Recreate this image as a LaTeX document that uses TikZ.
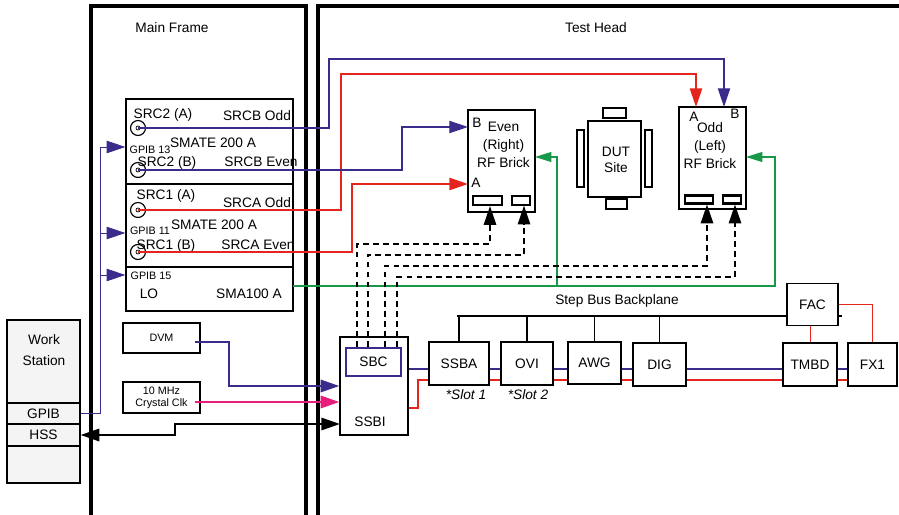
\documentclass[tikz,border=0pt]{standalone}
\usepackage{fontspec}
\setmainfont{Liberation Sans}
\usetikzlibrary{arrows.meta}

\definecolor{morado}{RGB}{57,44,139}
\definecolor{rojo}{RGB}{230,36,30}
\definecolor{verde}{RGB}{22,152,72}
\definecolor{rosa}{RGB}{232,28,122}
\definecolor{grisws}{RGB}{244,244,244}

\pgfdeclarelayer{fondo}
\pgfsetlayers{fondo,main}

% Unidad: un pixel del dibujo
\def\upx{0.03cm}

\tikzset{
  txt/.style={inner sep=0pt, text height=8.4pt, text depth=0pt},
  txtm/.style={inner sep=0pt, align=center},
  chico/.style={font=\fontsize{9.2}{10.2}\selectfont},
  caja/.style 2 args={draw, line width=1.1pt, fill=white, inner sep=0pt,
    minimum width=#1*\upx, minimum height=#2*\upx},
  smate/.style 2 args={caja={#1}{#2}, line width=0.9pt},
  ws/.style 2 args={caja={#1}{#2}, fill=grisws, line width=1pt},
  ranura/.style 2 args={caja={#1}{#2}, line width=1.8pt},
  conector/.style={draw, circle, line width=1pt, inner sep=0pt, minimum size=15*\upx},
  marco/.style={line width=2.8pt},
  flecha/.style={-{Triangle[length=16pt,width=10.5pt]}},
  gpib/.style={morado, line width=0.8pt},
  srcb/.style={morado, line width=1.2pt, flecha},
  srca/.style={rojo, line width=1.6pt, flecha},
  loline/.style={verde, line width=1.1pt, -{Triangle[length=14pt,width=8.5pt]}},
  trig/.style={dash pattern=on 5pt off 3.5pt, line width=1.5pt, flecha},
  dvmline/.style={morado, line width=2pt, flecha},
  clkline/.style={rosa, line width=2pt, flecha},
  hss/.style={line width=2pt, {Triangle[length=16pt,width=10.5pt]}-{Triangle[length=16pt,width=10.5pt]}},
  busaz/.style={morado, line width=1.6pt},
  busro/.style={rojo, line width=1.6pt},
  bp/.style={black, line width=0.9pt}
}

\begin{document}
\begin{tikzpicture}[x=\upx, y=-\upx, font=\fontsize{11.7}{15.3}\selectfont]
\useasboundingbox (0,0) rectangle (899,515);
\clip (0,0) rectangle (899,515);

% Marcos
\draw[marco] (91,530) -- (91,6) -- (306,6) -- (306,530);
\draw[marco] (318,530) -- (318,6) -- (910,6);
\node[txt] (tmain) at (172,28) {Main Frame};
\node[txt] (thead) at (596,28) {Test Head};

% Estacion de trabajo
\node[ws={73}{83}] (wstop) at (43.5,361.5) {};
\node[txtm] (wslbl) at (44,350) {Work\\[2.5pt]Station};
\node[ws={73}{21}] (wsgpib) at (43.5,413.5) {GPIB};
\node[ws={73}{22}] (wshss) at (43.5,435) {HSS};
\node[ws={73}{37}] (wsbot) at (43.5,464.5) {};

% Fuentes SMATE y SMA
\node[smate={167}{85}] (smate2) at (209.5,141.5) {};
\node[smate={167}{83}] (smate1) at (209.5,225.5) {};
\node[smate={167}{44}] (sma) at (209.5,289) {};

\foreach \nom/\x/\y/\etq in {s2a/163/114/SRC2 (A), s2bo/257/116/SRCB Odd,
    m2/213/143/SMATE 200 A, s2b/167/162/SRC2 (B), s2be/261/162/SRCB Even,
    s1a/166/195/SRC1 (A), s1ao/257/203/SRCA Odd, m1/214/225/SMATE 200 A,
    s1b/166/245/SRC1 (B), s1be/258/245/SRCA Even, lo/149/294/LO,
    smanom/249/294/SMA100 A}
  \node[txt] (\nom) at (\x,\y) {\etq};
\foreach \nom/\x/\y/\etq in {g13/150/150/GPIB 13, g11/150/231/GPIB 11, g15/151/276/GPIB 15}
  \node[txt, chico, text height=6.6pt] (\nom) at (\x,\y) {\etq};

% Conectores
\foreach \nom/\y in {c2a/128, c2b/170, c1a/210, c1b/252} {
  \node[conector] (\nom) at (138,\y) {};
  \draw[line width=0.6pt] (\nom.center) circle[radius=2];
}

% DVM y reloj
\node[caja={77}{30}, chico] (dvm) at (161.5,338) {DVM};
\node[caja={77}{31}, chico, align=center] (clk) at (161.5,397.5) {10 MHz\\Crystal Clk};

% Ladrillos RF
\node[caja={67}{102}] (even) at (501.5,161) {};
\node[caja={67}{102}] (odd) at (712.5,158) {};
\node[txtm] (evtxt) at (503.5,145) {Even\\(Right)\\RF Brick};
\node[txtm] (odtxt) at (710,145.5) {Odd\\(Left)\\RF Brick};
\node[txt] (evB) at (477,123) {B};
\node[txt] (evA) at (476,183) {A};
\node[txt] (odA) at (694,117) {A};
\node[txt] (odB) at (735,114) {B};
\node[ranura={29}{9}] (evl) at (487.5,200.5) {};
\node[caja={18}{9}, line width=1pt] (evr) at (521,200.5) {};
\node[ranura={28}{8}] (odl) at (699,199.5) {};
\node[ranura={18}{8}] (odr) at (732,199.5) {};

% DUT
\node[caja={53}{76}] (dut) at (614.5,159) {};
\node[txtm] (duttxt) at (616,160) {DUT\\[-1.5pt]Site};
\node[caja={23}{10}, line width=1.6pt] (dutn) at (614.5,113) {};
\node[caja={21}{10}, line width=1.6pt] (duts) at (616.5,204) {};
\node[caja={7}{57}, line width=1.6pt] (dutw) at (580.5,158.5) {};
\node[caja={7}{57}, line width=1.6pt] (dute) at (648.5,158.5) {};

% SSBI y SBC
\node[caja={68}{98}] (ssbi) at (374,386) {};
\node[caja={55}{28}, draw=morado, line width=1.5pt] (sbc) at (373.5,362) {SBC};
\node[txt] (ssbilbl) at (370,422) {SSBI};

% Tarjetas del backplane
\node[caja={60}{43}] (ssba) at (459,363.5) {SSBA};
\node[caja={52}{43}] (ovi) at (527,363.5) {OVI};
\node[caja={53}{42}] (awg) at (594.5,363) {AWG};
\node[caja={53}{43}] (dig) at (659.5,364.5) {DIG};
\node[caja={54}{43}] (tmbd) at (810,364.5) {TMBD};
\node[caja={49}{43}] (fx1) at (872.5,364.5) {FX1};
\node[caja={51}{42}] (fac) at (812.5,304.5) {FAC};
\node[txt] (bptxt) at (617,300) {Step Bus Backplane};
\node[txt] (slot1) at (466,395) {\itshape *Slot 1};
\node[txt] (slot2) at (528,395) {\itshape *Slot 2};

% Puntos de paso
\coordinate (b13) at (100,147);
\coordinate (b11) at (100,233);
\coordinate (b15) at (100,275);
\coordinate (oddA) at (696,107);
\coordinate (oddB) at (724,107);
\coordinate (evenB) at (468,127);
\coordinate (evenA) at (468,184);
\coordinate (evenG) at (535,157);
\coordinate (oddG) at (746,157);
\coordinate (loout) at (293,286);
\coordinate (dvmout) at (195,342);
\coordinate (clkout) at (195,402);
\coordinate (hssin) at (340,424);
\coordinate (bpi) at (457,316);
\coordinate (busA) at (408,369);
\coordinate (busR) at (408,408);
\coordinate (busR2) at (418,380);

% Bus GPIB
\draw[gpib] (wsgpib.east) -| (b13);
\foreach \b/\caja in {b13/smate2, b11/smate1, b15/sma}
  \draw[gpib, flecha] (\b) -- (\b -| \caja.west);

% Cables RF
\draw[srcb] (c2a.center) -| (329,59) -| (oddB);
\draw[srca] (c1a.center) -| (341,74) -| (oddA);
\draw[srcb] (c2b.center) -| (402,127) -- (evenB);
\draw[srca] (c1b.center) -| (352,184) -- (evenA);

% Oscilador local
\draw[loline] (loout) -| (775,157) -- (oddG);
\draw[loline] (557,286) |- (evenG);

% Disparos desde el SBC
\foreach \i/\xa/\ya/\xb/\ran in {1/357/244/490/evl, 2/368/255/524/evr,
    3/385/266/707/odl, 4/397/277/735/odr} {
  \coordinate (sal\i) at (\xa,0);
  \coordinate (codo\i) at (\xb,\ya);
  \draw[trig] (sal\i |- sbc.north) |- (codo\i) -- (codo\i |- \ran.south);
}

% DVM, reloj y HSS
\draw[dvmline] (dvmout) -| (229,386) -- (ssbi.west);
\draw[clkline] (clkout) -- (clkout -| ssbi.west);
\draw[hss] (hssin) -| (175,435) -- (wshss.east);

% Backplane y buses
\begin{pgfonlayer}{fondo}
\draw[bp] (bpi) -- (bpi -| fac.east) -- ++(3,0);
\draw[busaz] (busA) -- (busA -| fx1.west);
\draw[busro] (busR) -| (busR2) -- (busR2 -| fx1.west);
\end{pgfonlayer}
\foreach \caja in {ssba, ovi, awg, dig}
  \draw[bp] (\caja.north |- bpi) -- (\caja.north);
\draw[rojo, line width=0.8pt] (tmbd.north) -- (tmbd.north |- fac.south);
\draw[busro] (fac.east) -| (fx1.north);

\end{tikzpicture}
\end{document}
